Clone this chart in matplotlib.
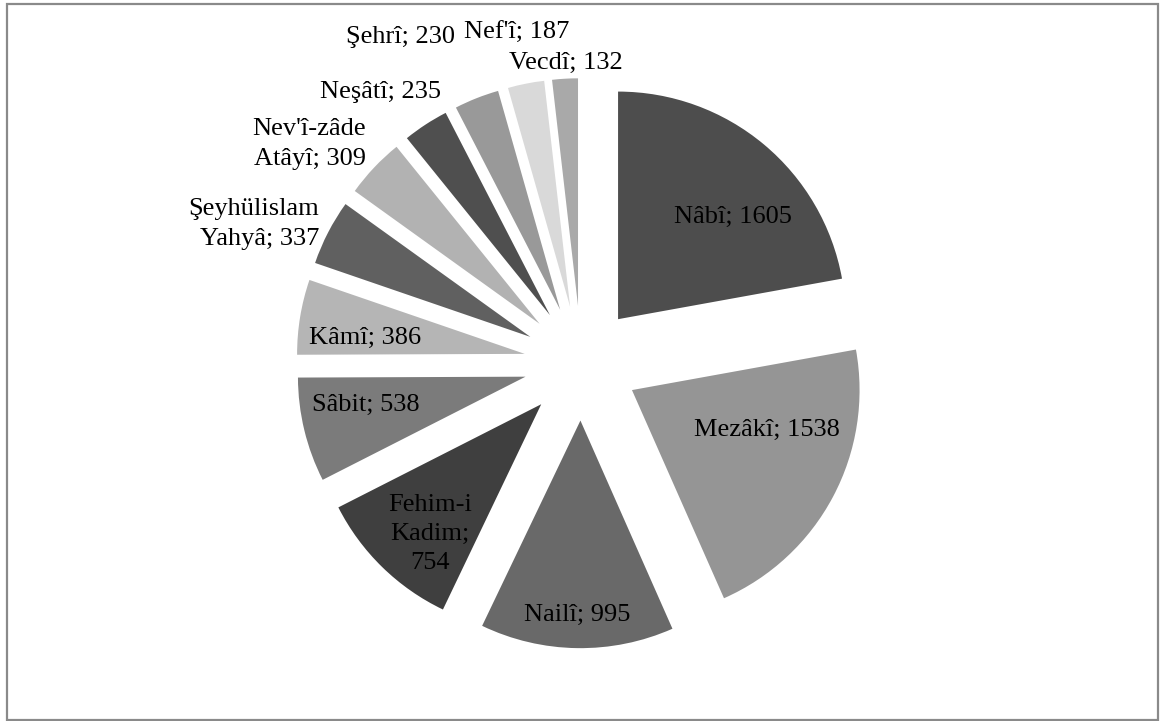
import matplotlib.pyplot as plt
from matplotlib.patches import Rectangle

plt.rcParams['font.family'] = ['Liberation Serif', 'DejaVu Serif']

# Number of works per poet
poets = ['Nâbî', 'Mezâkî', 'Nailî', 'Fehim-i\nKadim', 'Sâbit', 'Kâmî',
         'Şeyhülislam\nYahyâ', "Nev'î-zâde\nAtâyî", 'Neşâtî', 'Şehrî',
         "Nef'î", 'Vecdî']
counts = [1605, 1538, 995, 754, 538, 386, 337, 309, 235, 230, 187, 132]
grays = ['#4d4d4d', '#959595', '#696969', '#3f3f3f', '#7b7b7b', '#b5b5b5',
         '#606060', '#b2b2b2', '#4f4f4f', '#999999', '#d9d9d9', '#a9a9a9']

W, H = 1163, 721
cx, cy, R = 581.3, 363.2, 227.6   # pie centre / radius in pixels


def px(x, y):
    # pixel position (from top-left) -> data coords of the pie axes
    return (x - cx) / R, (cy - y) / R


# label anchors (pixels) and horizontal alignment
label_pos = [(733, 217, 'center'), (767, 430, 'center'), (577, 615, 'center'),
             (430, 534, 'center'), (366, 405, 'center'), (365, 338, 'center'),
             (319, 224, 'right'), (366, 144, 'right'), (380, 92, 'center'),
             (400, 37, 'center'), (517, 33, 'center'), (566, 63, 'center')]

fig = plt.figure(figsize=(W / 100, H / 100), dpi=100)
ax = fig.add_axes([0, 0, 1, 1])

ax.pie(counts, colors=grays, startangle=90, counterclock=False,
       explode=[0.252] * len(counts), radius=1,
       wedgeprops=dict(linewidth=0))

for name, n, (x, y, ha) in zip(poets, counts, label_pos):
    if name.startswith('Fehim'):
        txt = 'Fehim-i\nKadim;\n%d' % n
    else:
        txt = '%s; %d' % (name, n)
    xd, yd = px(x, y)
    ax.text(xd, yd, txt, ha=ha, va='center', multialignment=ha,
            fontsize=19, color='black', linespacing=1.42)

ax.set_xlim(-cx / R, (W - cx) / R)
ax.set_ylim(-(H - cy) / R, cy / R)
ax.set_aspect('auto')
ax.axis('off')

# chart frame
fig.patches.append(Rectangle((7 / W, 1.5 / H), 1151 / W, 716 / H,
                             transform=fig.transFigure, fill=False,
                             edgecolor='#8a8a8a', linewidth=1.6))

fig.savefig('out.png', dpi=100)
